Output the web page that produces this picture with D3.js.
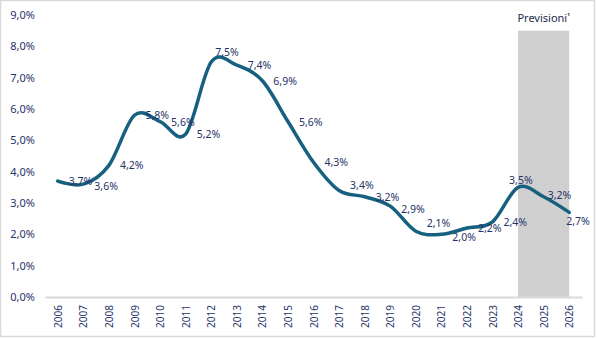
<!DOCTYPE html>
<html>
<head>
<meta charset="utf-8">
<script src="https://cdn.jsdelivr.net/npm/d3@7"></script>
<style>
  html, body { margin: 0; padding: 0; background: #fff; }
  svg { display: block; font-family: "Noto Sans", "DejaVu Sans", sans-serif; }
</style>
</head>
<body>
<div id="chart"></div>
<script>
// Annual values, 2006-2026 (last three years are forecasts)
const years = ['2006', '2007', '2008', '2009', '2010', '2011', '2012', '2013', '2014', '2015', '2016',
  '2017', '2018', '2019', '2020', '2021', '2022', '2023', '2024', '2025', '2026'];
const values = [3.7, 3.6, 4.2, 5.8, 5.6, 5.2, 7.5, 7.4, 6.9, 5.6, 4.3,
  3.4, 3.2, 2.9, 2.1, 2.0, 2.2, 2.4, 3.5, 3.2, 2.7];
const yTicks = [0, 1, 2, 3, 4, 5, 6, 7, 8, 9];

// Forecast band
const forecastYears = ['2024', '2026'];
const forecastTop = 8.5;
const forecastLabel = 'Previsioni';

const width = 597;
const height = 339;
const margin = { top: 15, right: 15, bottom: 42, left: 45 };

const navy = '#1f3468';
const lineColor = '#17607f';

const svg = d3.select('#chart')
  .append('svg')
  .attr('width', width)
  .attr('height', height);

// frame
svg.append('rect')
  .attr('x', 0.5).attr('y', 0.5)
  .attr('width', width - 3).attr('height', height - 3)
  .attr('fill', '#fff')
  .attr('stroke', '#d9d9d9')
  .attr('stroke-width', 1.5);

const x = d3.scaleBand()
  .domain(years)
  .range([margin.left, width - margin.right])
  .padding(0);

const cx = d => x(d) + x.bandwidth() / 2;

const y = d3.scaleLinear()
  .domain([0, 9])
  .range([height - margin.bottom, margin.top]);

const fmt = v => d3.format('.1f')(v).replace('.', ',') + '%';

// forecast shading
svg.append('rect')
  .attr('x', cx(forecastYears[0]))
  .attr('y', y(forecastTop))
  .attr('width', cx(forecastYears[1]) - cx(forecastYears[0]))
  .attr('height', y(0) - y(forecastTop))
  .attr('fill', '#d0d0d0');

const forecastText = svg.append('text')
  .attr('x', (cx(forecastYears[0]) + cx(forecastYears[1])) / 2)
  .attr('y', y(forecastTop) - 9)
  .attr('text-anchor', 'middle')
  .attr('font-size', 11)
  .attr('fill', '#1b2a4a')
  .text(forecastLabel);
forecastText.append('tspan')
  .attr('font-size', 7)
  .attr('font-weight', 'bold')
  .attr('dy', -3)
  .text('¹');

// Y axis (labels only)
const yAxis = svg.append('g')
  .attr('transform', `translate(${margin.left - 10},0)`)
  .call(d3.axisLeft(y).tickValues(yTicks).tickSize(0).tickPadding(0).tickFormat(fmt));
yAxis.select('.domain').remove();
yAxis.selectAll('text')
  .attr('font-size', 11)
  .attr('font-family', '"Noto Sans", sans-serif')
  .attr('fill', navy);

// X axis
const xAxis = svg.append('g')
  .attr('transform', `translate(0,${y(0)})`)
  .call(d3.axisBottom(x).tickSize(0).tickPadding(0));
xAxis.select('.domain')
  .attr('stroke', '#d9d9d9')
  .attr('stroke-width', 2);
xAxis.selectAll('text')
  .attr('font-size', 10)
  .attr('font-family', '"Noto Sans", sans-serif')
  .attr('fill', navy)
  .attr('text-anchor', 'end')
  .attr('dy', null)
  .attr('dominant-baseline', 'central')
  .attr('transform', 'translate(0,8) rotate(-90)');

// smoothed line
const line = d3.line()
  .x((d, i) => cx(years[i]))
  .y(d => y(d))
  .curve(d3.curveCardinal.tension(0));

svg.append('path')
  .datum(values)
  .attr('fill', 'none')
  .attr('stroke', lineColor)
  .attr('stroke-width', 3.5)
  .attr('stroke-linecap', 'round')
  .attr('d', line);

// data labels, mostly to the right of the point
const labelShift = {
  1: [0, 2], 6: [-7, -10], 11: [0, -5], 13: [0, 3], 14: [0, -8],
  15: [0, 3], 18: [-20, -7], 19: [-7, -2], 20: [-14, 9]
};

svg.selectAll('.val-label')
  .data(values)
  .enter()
  .append('text')
  .attr('class', 'val-label')
  .attr('x', (d, i) => cx(years[i]) + 11 + (labelShift[i] ? labelShift[i][0] : 0))
  .attr('y', (d, i) => y(d) + (labelShift[i] ? labelShift[i][1] : 0))
  .attr('dominant-baseline', 'central')
  .attr('font-size', 10.5)
  .attr('fill', navy)
  .text(d => fmt(d));
</script>
</body>
</html>
